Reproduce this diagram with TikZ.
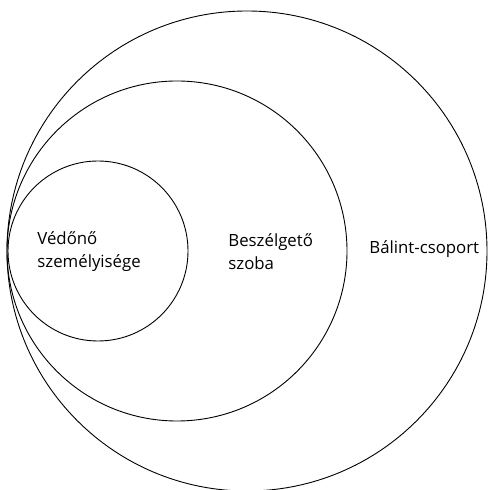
\documentclass[tikz,border=0pt]{standalone}
\usepackage{fontspec}
\setmainfont{Open Sans}

\begin{document}
\begin{tikzpicture}[x=1pt,y=1pt,thick]
\useasboundingbox (0,0) rectangle (488,490);
\tikzset{label/.style={anchor=west,align=left,inner sep=0pt,font=\fontsize{16.8}{23}\selectfont}}
\coordinate (Vc) at (98,239) {};
\coordinate (Bc) at (177,239) {};
\coordinate (Ac) at (247,239) {};

\draw[line width=0.9pt] (Vc) circle [radius=90];
\draw[line width=0.9pt] (Bc) circle [radius=170];
\draw[line width=0.9pt] (Ac) circle [radius=240];

\node[label] (V) at (37,238) {Védőnő\\személyisége};
\node[label] (B) at (228,238) {Beszélgető\\szoba};
\node[label] (A) at (369,241) {Bálint-csoport};
\end{tikzpicture}
\end{document}
